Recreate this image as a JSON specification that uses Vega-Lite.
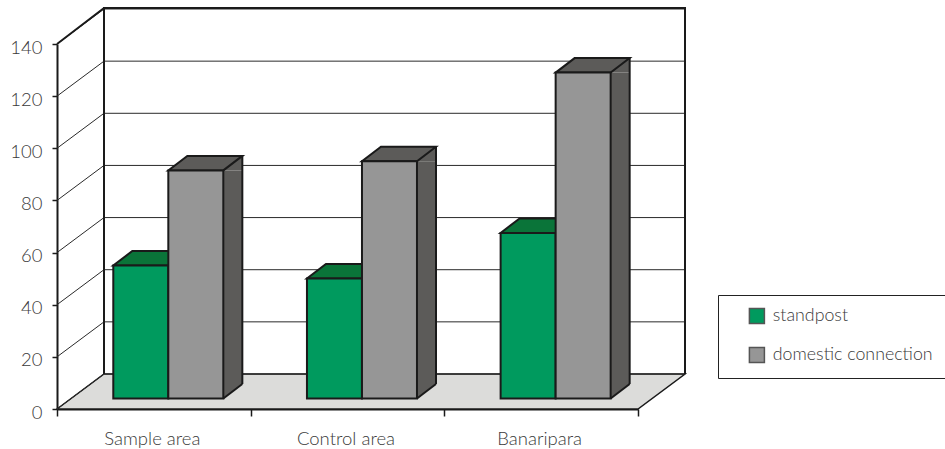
{
  "$schema": "https://vega.github.io/schema/vega-lite/v6.json",
  "width": 581,
  "height": 365,
  "padding": {"left": 57, "top": 44, "right": 307, "bottom": 40},
  "autosize": "none",
  "background": "white",
  "config": {
    "view": {"stroke": null},
    "font": "Lato",
    "axis": {"labelFont": "Lato", "labelFontWeight": 300, "labelColor": "#3a3a3a", "domainColor": "#1a1a1a", "tickColor": "#1a1a1a", "grid": false, "title": null, "zindex": 1}
  },
  "datasets": {
    "bars": [
      {"area": "Sample area", "series": "standpost", "value": 51},
      {"area": "Sample area", "series": "domestic connection", "value": 87.5},
      {"area": "Control area", "series": "standpost", "value": 46},
      {"area": "Control area", "series": "domestic connection", "value": 91},
      {"area": "Banaripara", "series": "standpost", "value": 63.5},
      {"area": "Banaripara", "series": "domestic connection", "value": 125}
    ],
    "ticks": [
      {"tick": 0}, {"tick": 20}, {"tick": 40}, {"tick": 60}, {"tick": 80}, {"tick": 100}, {"tick": 120}, {"tick": 140}
    ]
  },
  "encoding": {
    "y": {
      "type": "quantitative",
      "scale": {"domain": [0, 140], "nice": false},
      "axis": {"values": [0, 20, 40, 60, 80, 100, 120, 140], "domainWidth": 2, "tickSize": 5, "tickWidth": 1.5, "labelFontSize": 18.5, "labelPadding": 10, "labelOffset": 3}
    }
  },
  "layer": [
    {
      "description": "Floor of the 3D box, anchored at the origin of the value axis",
      "data": {"name": "ticks"},
      "transform": [{"filter": "datum.tick === 0"}],
      "mark": {"type": "point", "filled": true, "size": 4, "fill": "#dcdcda", "opacity": 1, "stroke": "#1a1a1a", "strokeWidth": 1.5, "shape": "M0 0L47 -35L628 -35L581 0Z"},
      "encoding": {
        "x": {"datum": "Sample area", "bandPosition": 0, "type": "nominal", "scale": {"domain": ["Sample area", "Control area", "Banaripara"], "padding": 0}, "axis": {"labelAngle": 0, "labelOffset": -2, "labelFontSize": 18.5, "labelPadding": 13, "tickBand": "extent", "tickSize": 7, "tickWidth": 1.5, "domainWidth": 2}},
        "y": {"field": "tick"}
      }
    },
    {
      "description": "Back wall gridlines and slanted side-wall lines at each axis value",
      "data": {"name": "ticks"},
      "mark": {"type": "point", "filled": false, "size": 4, "opacity": 1, "stroke": "#2a2a2a", "strokeWidth": 1, "shape": "M0 0L47 -35L628 -35"},
      "encoding": {
        "x": {"datum": "Sample area", "bandPosition": 0, "type": "nominal"},
        "y": {"field": "tick"}
      }
    },
    {
      "description": "Heavier outline of the back wall",
      "data": {"name": "ticks"},
      "transform": [{"filter": "datum.tick === 0"}],
      "mark": {"type": "point", "filled": false, "size": 4, "opacity": 1, "stroke": "#1a1a1a", "strokeWidth": 2, "shape": "M47 -35V-401L628 -401V-35M0 -365L47 -401"},
      "encoding": {
        "x": {"datum": "Sample area", "bandPosition": 0, "type": "nominal"},
        "y": {"field": "tick"}
      }
    },
    {
      "description": "Side face body of the grey bars, placed from the band centre",
      "data": {"name": "bars"},
      "transform": [{"filter": "datum.series === 'domestic connection'"}],
      "mark": {"type": "bar", "width": 19, "xOffset": 79, "yOffset": -10.5, "y2Offset": -25, "fill": "#5c5b59"},
      "encoding": {
        "x": {"field": "area", "type": "nominal", "sort": null},
        "y": {"field": "value"},
        "y2": {"datum": 0}
      }
    },
    {
      "description": "Upper triangle of the side face",
      "data": {"name": "bars"},
      "transform": [{"filter": "datum.series === 'domestic connection'"}],
      "mark": {"type": "point", "filled": true, "size": 4, "opacity": 1, "fill": "#5c5b59", "yOffset": -10.5, "shape": "M27.5 0L46.5 -14.5L46.5 0Z"},
      "encoding": {
        "x": {"field": "area", "type": "nominal", "sort": null},
        "xOffset": {"field": "series", "type": "nominal", "sort": null, "scale": {"domain": ["standpost", "domestic connection"], "paddingInner": 0, "paddingOuter": 0.76, "align": 0.673}},
        "y": {"field": "value"}
      }
    },
    {
      "description": "Lower triangle of the side face, anchored at the bar base",
      "data": {"name": "bars"},
      "transform": [{"filter": "datum.series === 'domestic connection'"}],
      "mark": {"type": "point", "filled": true, "size": 4, "opacity": 1, "fill": "#5c5b59", "yOffset": -10.5, "shape": "M27.5 0L27.5 -14.5L46.5 -14.5Z"},
      "encoding": {
        "x": {"field": "area", "type": "nominal", "sort": null},
        "xOffset": {"field": "series", "type": "nominal", "sort": null},
        "y": {"datum": 0}
      }
    },
    {
      "description": "Bottom diagonal of the side face",
      "data": {"name": "bars"},
      "transform": [{"filter": "datum.series === 'domestic connection'"}],
      "mark": {"type": "point", "filled": false, "size": 4, "opacity": 1, "stroke": "#1a1a1a", "strokeWidth": 2, "yOffset": -10.5, "shape": "M27.5 0L46.5 -14.5"},
      "encoding": {
        "x": {"field": "area", "type": "nominal", "sort": null},
        "xOffset": {"field": "series", "type": "nominal", "sort": null},
        "y": {"datum": 0}
      }
    },
    {
      "description": "Right vertical edge of the side face",
      "data": {"name": "bars"},
      "transform": [{"filter": "datum.series === 'domestic connection'"}],
      "mark": {"type": "rule", "stroke": "#1a1a1a", "strokeWidth": 2, "xOffset": 88.5, "yOffset": -25, "y2Offset": -25},
      "encoding": {
        "x": {"field": "area", "type": "nominal", "sort": null},
        "y": {"field": "value"},
        "y2": {"datum": 0}
      }
    },
    {
      "description": "Top faces of all bars",
      "data": {"name": "bars"},
      "mark": {"type": "point", "filled": true, "size": 4, "opacity": 1, "stroke": "#1a1a1a", "strokeWidth": 2, "yOffset": -10.5, "shape": "M-27.5 0L27.5 0L46.5 -14.5L-8.5 -14.5Z"},
      "encoding": {
        "x": {"field": "area", "type": "nominal", "sort": null},
        "xOffset": {"field": "series", "type": "nominal", "sort": null},
        "y": {"field": "value"},
        "fill": {"condition": {"test": "datum.series === 'standpost'", "value": "#0a7439"}, "value": "#5c5b59"}
      }
    },
    {
      "description": "Front faces of all bars, carrying the series legend",
      "data": {"name": "bars"},
      "mark": {"type": "bar", "width": 55, "stroke": "#1a1a1a", "strokeWidth": 2, "yOffset": -10.5, "y2Offset": -10.5},
      "encoding": {
        "x": {"field": "area", "type": "nominal", "sort": null},
        "xOffset": {"field": "series", "type": "nominal", "sort": null},
        "y": {"field": "value"},
        "y2": {"datum": 0},
        "fill": {
          "field": "series",
          "type": "nominal",
          "sort": null,
          "scale": {"domain": ["standpost", "domestic connection"], "range": ["#009a5e", "#969696"]},
          "legend": {
            "title": null,
            "orient": "none",
            "legendX": 661,
            "legendY": 251,
            "padding": 12,
            "strokeColor": "#222222",
            "fillColor": "white",
            "symbolType": "square",
            "symbolSize": 225,
            "symbolStrokeColor": "#555555",
            "symbolStrokeWidth": 1.5,
            "symbolOffset": 18,
            "labelFont": "Lato",
            "labelFontWeight": 300,
            "labelFontSize": 17.8,
            "labelColor": "#3a3a3a",
            "labelOffset": 7,
            "rowPadding": 17
          }
        }
      }
    }
  ]
}
